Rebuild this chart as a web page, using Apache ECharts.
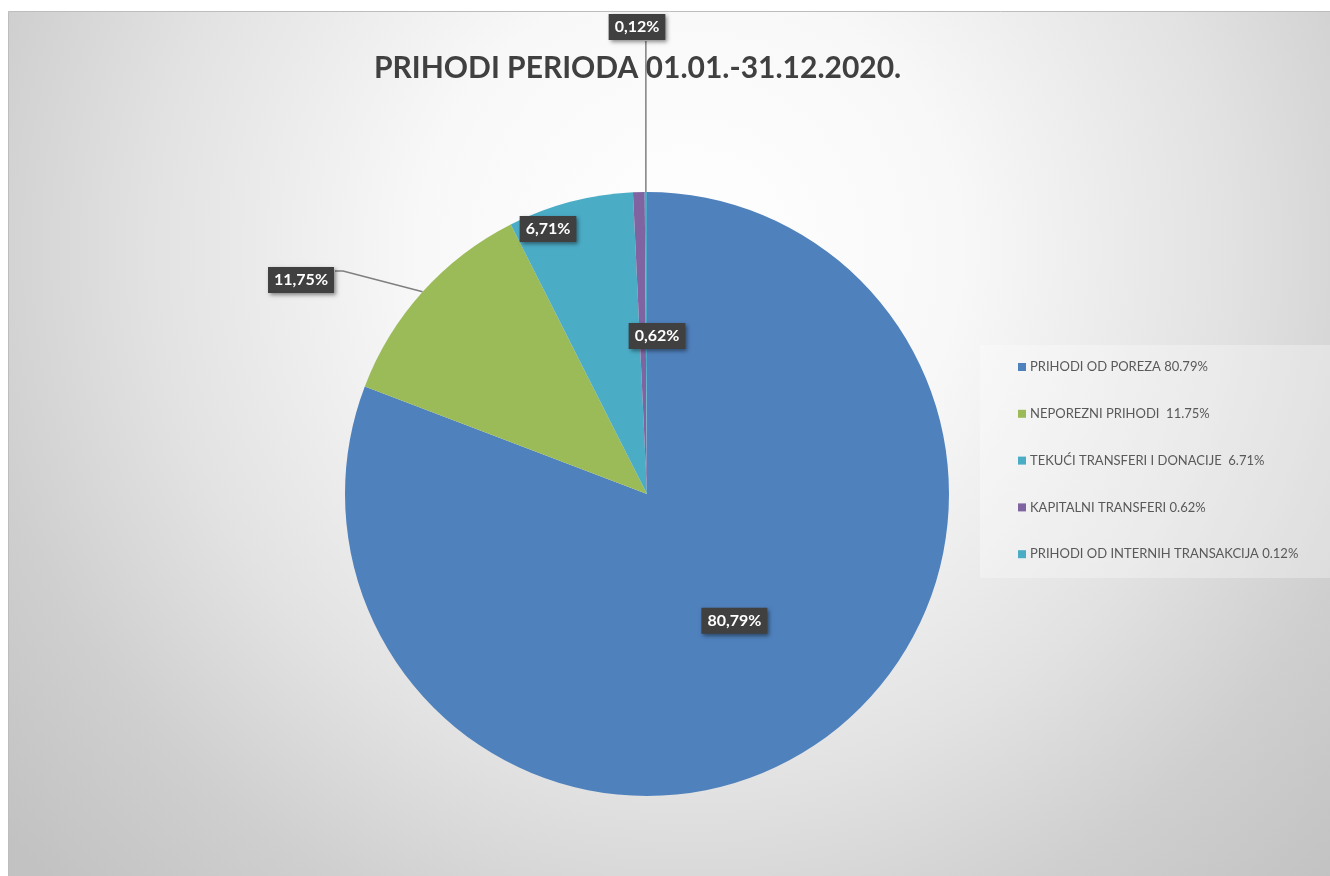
<!DOCTYPE html>
<html>
<head>
<meta charset="utf-8">
<title>Prihodi perioda 01.01.-31.12.2020.</title>
<style>
    html, body {
        margin: 0;
        padding: 0;
        background: #fff;
    }
    #echarts {
        width: 1330px;
        height: 876px;
    }
</style>
</head>
<body>
<div id="echarts"></div>
<script src="https://cdn.jsdelivr.net/npm/echarts@6/dist/echarts.min.js"></script>
<script>
    // podaci
    const naslov = 'PRIHODI PERIODA 01.01.-31.12.2020.';
    const kategorije = [
        'PRIHODI OD POREZA 80.79%',
        'NEPOREZNI PRIHODI  11.75%',
        'TEKUĆI TRANSFERI I DONACIJE  6.71%',
        'KAPITALNI TRANSFERI 0.62%',
        'PRIHODI OD INTERNIH TRANSAKCIJA 0.12%'
    ];
    const udjeli = [80.79, 11.75, 6.71, 0.62, 0.12];
    const boje = ['#4f81bd', '#9bbb59', '#4bacc6', '#8064a2', '#4bacc6'];

    const font = 'Lato, "Open Sans", sans-serif';

    // ručno pomjereni natpisi (kao u Excelu), ostali ostaju gdje ih stavi echarts
    const natpisi = {
        1: {x: 301, y: 280, linija: [[343, 271], [335, 271]]},
        2: {x: 548, y: 229},
        3: {x: 657, y: 336},
        4: {x: 637, y: 27, doVrha: 41}
    };
    const vani = [1, 4];

    let myChart = echarts.init(document.getElementById('echarts')); // echarts instanca

    let option = {
        animation: false,
        title: {
            text: naslov,
            left: 374,
            top: 53,
            padding: 0,
            textStyle: {
                fontFamily: font,
                fontSize: 30,
                fontWeight: 'bold',
                color: '#404040'
            }
        },
        graphic: [
            {
                // pozadina grafikona
                type: 'rect',
                silent: true,
                shape: {x: 8.5, y: 11.5, width: 1330, height: 870},
                style: {
                    fill: new echarts.graphic.RadialGradient(690, 250, 900, [
                        {offset: 0, color: '#ffffff'},
                        {offset: 0.3, color: '#f8f8f8'},
                        {offset: 0.6, color: '#e2e2e2'},
                        {offset: 0.8, color: '#cfcfcf'},
                        {offset: 1, color: '#c2c2c2'}
                    ], true),
                    stroke: '#bdbdbd',
                    lineWidth: 1
                }
            },
            {
                // okvir legende
                type: 'rect',
                silent: true,
                shape: {x: 980, y: 345, width: 350, height: 233},
                style: {fill: 'rgba(255,255,255,0.3)'}
            }
        ],
        legend: {
            orient: 'vertical',
            left: 1018,
            top: 359,
            padding: 0,
            icon: 'rect',
            itemWidth: 8,
            itemHeight: 8,
            itemGap: 30.8,
            selectedMode: false,
            textStyle: {
                fontFamily: font,
                fontSize: 13,
                lineHeight: 16,
                color: '#595959',
                padding: [0, 0, 0, -1]
            },
            data: kategorije
        },
        series: [{
            type: 'pie',
            z: 8,
            center: [647, 494],
            radius: [0, 302],
            startAngle: 90,
            clockwise: true,
            avoidLabelOverlap: false,
            emphasis: {disabled: true},
            itemStyle: {borderWidth: 0},
            label: {
                show: true,
                position: 'inside',
                formatter: function (p) {
                    return p.value.toFixed(2).replace('.', ',') + '%';
                },
                fontFamily: font,
                fontSize: 16,
                fontWeight: 'bold',
                color: '#ffffff',
                backgroundColor: '#404040',
                padding: [6, 6, 4, 6],
                shadowColor: 'rgba(0,0,0,0.45)',
                shadowBlur: 4,
                shadowOffsetX: 2,
                shadowOffsetY: 2
            },
            labelLine: {
                show: false,
                lineStyle: {color: '#7f7f7f', width: 1.5}
            },
            labelLayout: function (params) {
                let n = natpisi[params.dataIndex];
                if (!n) {
                    return {};
                }
                let res = {x: n.x, y: n.y, align: 'center', verticalAlign: 'middle'};
                let pts = params.labelLinePoints;
                if (pts && n.linija) {
                    res.labelLinePoints = [pts[0], n.linija[0], n.linija[1]];
                }
                if (pts && n.doVrha) {
                    res.labelLinePoints = [pts[0], [pts[0][0], n.doVrha], [pts[0][0], n.doVrha]];
                }
                return res;
            },
            data: kategorije.map(function (name, i) {
                let out = vani.indexOf(i) >= 0;
                return {
                    name: name,
                    value: udjeli[i],
                    itemStyle: {color: boje[i]},
                    label: {position: out ? 'outside' : 'inside'},
                    labelLine: {show: out, length: 10, length2: 10}
                };
            })
        }]
    };

    myChart.setOption(option);
</script>
</body>
</html>
